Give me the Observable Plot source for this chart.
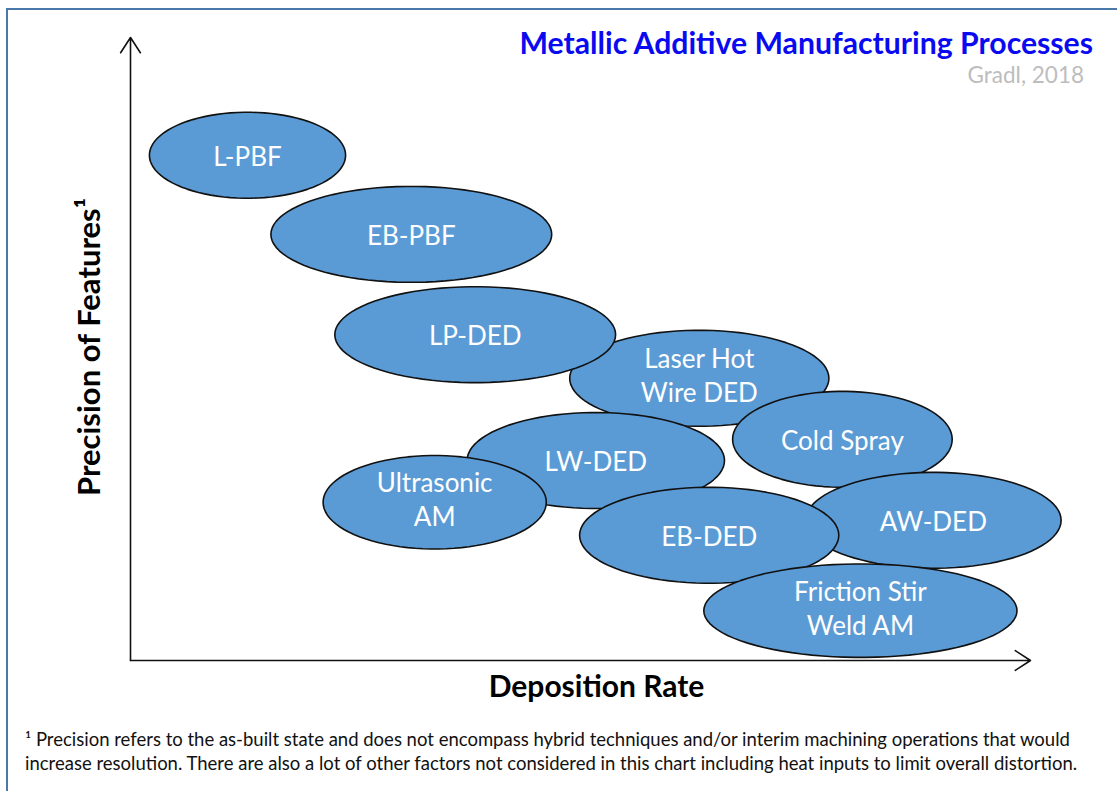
<!DOCTYPE html>
<html>
<head>
<meta charset="utf-8">
<script src="https://cdn.jsdelivr.net/npm/d3@7"></script>
<script src="https://cdn.jsdelivr.net/npm/@observablehq/plot@0.6"></script>
<style>
  html, body { margin: 0; padding: 0; background: #fff; }
  #wrap { position: relative; width: 1117px; height: 791px; overflow: hidden; font-family: Lato, "Open Sans", sans-serif; }
  #frame { position: absolute; left: 6px; top: 8px; width: 1200px; height: 900px; border-left: 2px solid #4a78a8; border-top: 2px solid #4a78a8; box-sizing: border-box; }
  #title { position: absolute; right: 24px; top: 24px; font-size: 30.2px; font-weight: bold; color: #0a0af0; white-space: nowrap; }
  #subtitle { position: absolute; right: 33px; top: 61px; font-size: 22.5px; color: #bdbdbd; white-space: nowrap; }
  #note { position: absolute; left: 25px; top: 727px; font-size: 18.5px; line-height: 24px; color: #111; white-space: nowrap; }
  #chart { position: absolute; left: 0; top: 0; }
</style>
</head>
<body>
<div id="wrap">
  <div id="frame"></div>
  <div id="chart"></div>
  <div id="title">Metallic Additive Manufacturing Processes</div>
  <div id="subtitle">Gradl, 2018</div>
  <div id="note">¹ Precision refers to the as-built state and does not encompass hybrid techniques and/or interim machining operations that would<br>increase resolution. There are also a lot of other factors not considered in this chart including heat inputs to limit overall distortion.</div>
</div>
<script>
// Processes (in drawing order), with deposition-rate / precision position and spread
const processes = ["L-PBF", "EB-PBF", "Laser Hot\nWire DED", "LP-DED", "LW-DED", "Cold Spray", "Ultrasonic\nAM", "AW-DED", "EB-DED", "Friction Stir\nWeld AM"];
const depositionRate = [1.30, 3.12, 6.32, 3.83, 5.17, 7.91, 3.38, 8.92, 6.43, 8.11];
const precision      = [8.11, 6.84, 4.53, 5.23, 3.21, 3.55, 2.54, 2.25, 2.01, 0.80];
const rateSpread     = [1.09, 1.56, 1.44, 1.56, 1.43, 1.22, 1.24, 1.42, 1.44, 1.74];
const precSpread     = [0.69, 0.77, 0.77, 0.77, 0.77, 0.77, 0.75, 0.77, 0.77, 0.75];

const axisArrows = [
  {x1: 0, y1: 0, x2: 0, y2: 10},
  {x1: 0, y1: 0, x2: 10, y2: 0}
];

const items = processes.map((p, i) => ({name: p, x: depositionRate[i], y: precision[i], rx: rateSpread[i], ry: precSpread[i]}));
const singleLine = items.filter(d => !d.name.includes("\n"));
const multiLine = items.filter(d => d.name.includes("\n"));

// ellipse outlines in data space
const N = 90;
const outline = [];
items.forEach((d, i) => {
  for (let k = 0; k < N; k++) {
    const t = 2 * Math.PI * k / N;
    outline.push({id: i, x: d.x + d.rx * Math.cos(t), y: d.y + d.ry * Math.sin(t)});
  }
});

const chart = Plot.plot({
  width: 1117,
  height: 791,
  marginLeft: 130,
  marginRight: 87,
  marginTop: 37,
  marginBottom: 131,
  x: {domain: [0, 10], axis: null},
  y: {domain: [0, 10], axis: null},
  style: {fontFamily: "Lato, 'Open Sans', sans-serif", background: "transparent"},
  marks: [
    Plot.arrow(axisArrows, {x1: "x1", y1: "y1", x2: "x2", y2: "y2", stroke: "#111", strokeWidth: 1.6, headLength: 17, headAngle: 66}),
    Plot.line(outline, {x: "x", y: "y", z: "id", curve: "linear-closed", fill: "#5b9bd5", stroke: "#111", strokeWidth: 1.6}),
    Plot.text(singleLine, {x: "x", y: "y", text: "name", fill: "white", fontSize: 26, dy: 2}),
    Plot.text(multiLine, {x: "x", y: "y", text: "name", fill: "white", fontSize: 26, lineHeight: 1.31, dy: -4}),
    Plot.text(["Deposition Rate"], {frameAnchor: "bottom", dx: 16, dy: 36, fontSize: 30, fontWeight: "bold", fill: "#000"}),
    Plot.text(["Precision of Features¹"], {frameAnchor: "left", textAnchor: "middle", rotate: -90, dx: -40, dy: -2, fontSize: 31, fontWeight: "bold", fill: "#000"})
  ]
});
document.getElementById("chart").appendChild(chart);
</script>
</body>
</html>
